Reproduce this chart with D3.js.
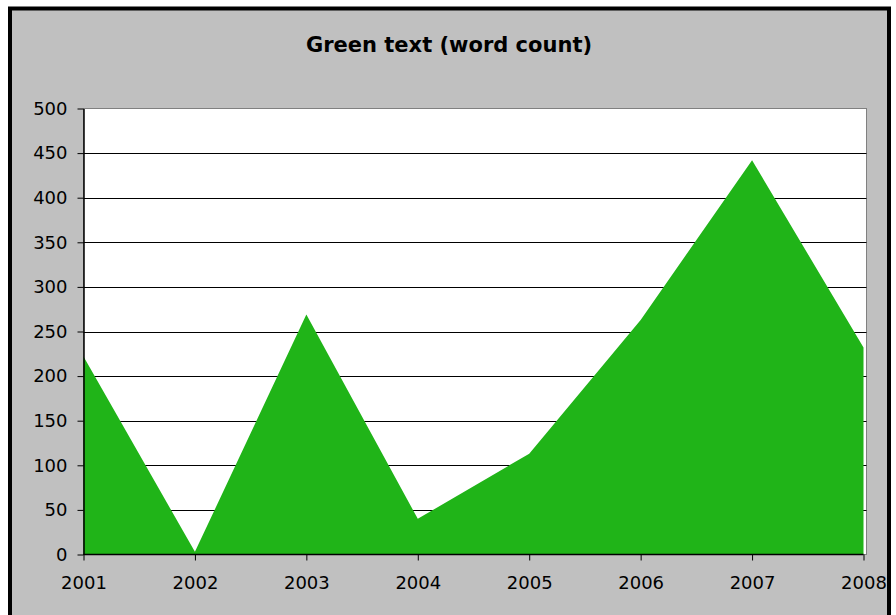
<!DOCTYPE html>
<html>
<head>
<meta charset="utf-8">
<script src="https://cdn.jsdelivr.net/npm/d3@7"></script>
<style>
  body { margin: 0; background: #fff; }
  svg { display: block; }
</style>
</head>
<body>
<svg id="chart" width="896" height="615"></svg>
<script>
// word counts per year
var Years = ["2001", "2002", "2003", "2004", "2005", "2006", "2007", "2008"];
var WordCounts = [222, 3, 269, 40, 113, 263, 442, 232];
var YTicks = [0, 50, 100, 150, 200, 250, 300, 350, 400, 450, 500];
var ChartTitle = "Green text (word count)";

var svg = d3.select("#chart");
var FontName = "'DejaVu Sans', Verdana, sans-serif";

// outer frame
svg.append("rect")
    .attr("x", 10).attr("y", 8.5)
    .attr("width", 879).attr("height", 630)
    .style("fill", "#c0c0c0")
    .style("stroke", "#000")
    .style("stroke-width", 4);

var PlotLeft = 83.5, PlotRight = 866.5, PlotTop = 108.5, PlotBottom = 554.5;
var LastX = 863.5;

var x = d3.scalePoint().domain(Years).range([PlotLeft, LastX]);
var y = d3.scaleLinear().domain([0, 500]).range([PlotBottom, PlotTop]);

// plot area
svg.append("rect")
    .attr("x", PlotLeft).attr("y", PlotTop)
    .attr("width", PlotRight - PlotLeft).attr("height", PlotBottom - PlotTop)
    .style("fill", "#fff")
    .style("stroke", "#808080")
    .style("stroke-width", 1);

// gridlines
svg.append("g").selectAll("line")
    .data(YTicks.filter(function(d){ return d > 0 && d < 500; }))
    .enter().append("line")
    .attr("x1", PlotLeft).attr("x2", PlotRight)
    .attr("y1", function(d){ return Math.round(y(d)) + 0.5; })
    .attr("y2", function(d){ return Math.round(y(d)) + 0.5; })
    .style("stroke", "#000")
    .style("stroke-width", 1);

// the green area
var data = Years.map(function(d, i){ return {year: d, value: WordCounts[i]}; });
var area = d3.area()
    .x(function(d){ return x(d.year); })
    .y0(y(0))
    .y1(function(d){ return y(d.value); });

svg.append("path")
    .datum(data)
    .attr("d", area)
    .style("fill", "#20b418");

// y axis
var yAxis = svg.append("g")
    .attr("transform", "translate(" + PlotLeft + ",0)")
    .call(d3.axisLeft(y).tickValues(YTicks).tickSizeOuter(0).tickSizeInner(6).tickPadding(10));

// x axis
var xAxis = svg.append("g")
    .attr("transform", "translate(0," + PlotBottom + ")")
    .call(d3.axisBottom(x).tickSizeOuter(0).tickSizeInner(6).tickPadding(16));

[yAxis, xAxis].forEach(function(ax){
    ax.select(".domain").style("stroke", "#000").style("stroke-width", 1.5);
    ax.selectAll(".tick line").style("stroke", "#000");
    ax.selectAll("text")
        .style("font-family", FontName)
        .style("font-size", "18px")
        .style("fill", "#000");
});
xAxis.select(".domain").attr("d", "M" + PlotLeft + ",0H" + LastX);

// title
svg.append("text")
    .attr("x", 449).attr("y", 52)
    .attr("text-anchor", "middle")
    .style("font-family", FontName)
    .style("font-weight", "bold")
    .style("font-size", "21px")
    .text(ChartTitle);
</script>
</body>
</html>
